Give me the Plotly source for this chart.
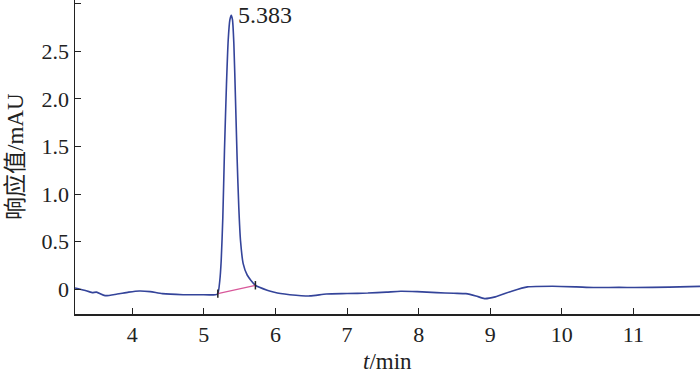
import plotly.graph_objects as go

# Chromatogram trace (time in min, response in mAU)
time_min = [3.20, 3.33, 3.44, 3.50, 3.62, 3.79, 3.95, 4.10, 4.25, 4.42, 4.71, 4.95, 5.16, 5.195,
            5.223, 5.242, 5.265, 5.288, 5.316, 5.34, 5.363, 5.383, 5.40, 5.419, 5.442, 5.465,
            5.488, 5.512, 5.549, 5.605, 5.72, 5.884, 5.97, 6.07, 6.20, 6.48, 6.71, 7.0, 7.29,
            7.55, 7.75, 7.98, 8.25, 8.49, 8.66, 8.80, 8.92, 9.07, 9.30, 9.52, 9.87, 10.2,
            10.44, 10.8, 11.02, 11.5, 11.93]
response = [0.014, -0.01, -0.035, -0.03, -0.067, -0.05, -0.03, -0.018, -0.025, -0.046, -0.057,
            -0.058, -0.057, -0.046,
            0.095, 0.30, 0.76, 1.46, 2.16, 2.62, 2.83, 2.88, 2.83, 2.58, 1.99, 1.36,
            0.86, 0.51, 0.27, 0.15, 0.042, -0.01, -0.028, -0.045, -0.057, -0.07, -0.05, -0.045, -0.04,
            -0.03, -0.021, -0.025, -0.035, -0.042, -0.046, -0.07, -0.098, -0.08, -0.02, 0.025, 0.032, 0.025,
            0.018, 0.02, 0.018, 0.022, 0.03]

# Integration baseline of the peak
base_t = [5.195, 5.72]
base_v = [-0.046, 0.042]

peak_rt = 5.383
peak_label = "5.383"

y_tickvals = [0, 0.5, 1.0, 1.5, 2.0, 2.5, 3.0]
y_ticktext = ["0", "0.5", "1.0", "1.5", "2.0", "2.5", ""]
x_tickvals = [4, 5, 6, 7, 8, 9, 10, 11]

FONT = "'Liberation Serif', 'Times New Roman', 'Noto Sans CJK SC', serif"

fig = go.Figure()
fig.add_trace(go.Scatter(x=time_min, y=response, mode="lines",
                         line=dict(color="#34449a", width=1.6, shape="spline", smoothing=0.6),
                         hoverinfo="skip", showlegend=False))
fig.add_trace(go.Scatter(x=base_t, y=base_v, mode="lines+markers",
                         line=dict(color="#d8589a", width=1.3),
                         marker=dict(symbol="line-ns", size=6, line=dict(color="#222222", width=1.5)),
                         hoverinfo="skip", showlegend=False))

fig.add_annotation(x=peak_rt + 0.07, y=2.88, text=peak_label, showarrow=False,
                   xanchor="left", yanchor="middle", font=dict(family=FONT, size=24, color="#222222"))
fig.add_annotation(x=0.5, y=-0.15, xref="paper", yref="paper", showarrow=False,
                   text="<i>t</i>/min", xanchor="center", yanchor="middle",
                   font=dict(family=FONT, size=23, color="#222222"))
fig.add_annotation(x=-0.096, y=0.5, xref="paper", yref="paper", showarrow=False,
                   text="响应值/mAU", textangle=-90, xanchor="center", yanchor="middle",
                   font=dict(family=FONT, size=23, color="#222222"))

fig.update_layout(
    width=700, height=375,
    margin=dict(l=75, r=0, t=0, b=61),
    paper_bgcolor="white", plot_bgcolor="white",
    font=dict(family=FONT, size=22, color="#222222"),
    xaxis=dict(range=[3.2, 11.93], tickvals=x_tickvals, ticks="inside", ticklen=6,
               tickcolor="#222222", showline=True, linecolor="#222222", linewidth=1.5,
               showgrid=False, zeroline=False, mirror=False),
    yaxis=dict(range=[-0.26, 3.04], tickvals=y_tickvals, ticktext=y_ticktext, ticks="inside",
               ticklen=6, tickcolor="#222222", showline=True, linecolor="#222222", linewidth=1.5,
               showgrid=False, zeroline=False, mirror=False),
)

fig.write_html("out.html", config={"displayModeBar": False, "staticPlot": True},
               post_script="document.body.style.margin='0';document.body.style.padding='0';"
                           "document.body.style.overflow='hidden';")
